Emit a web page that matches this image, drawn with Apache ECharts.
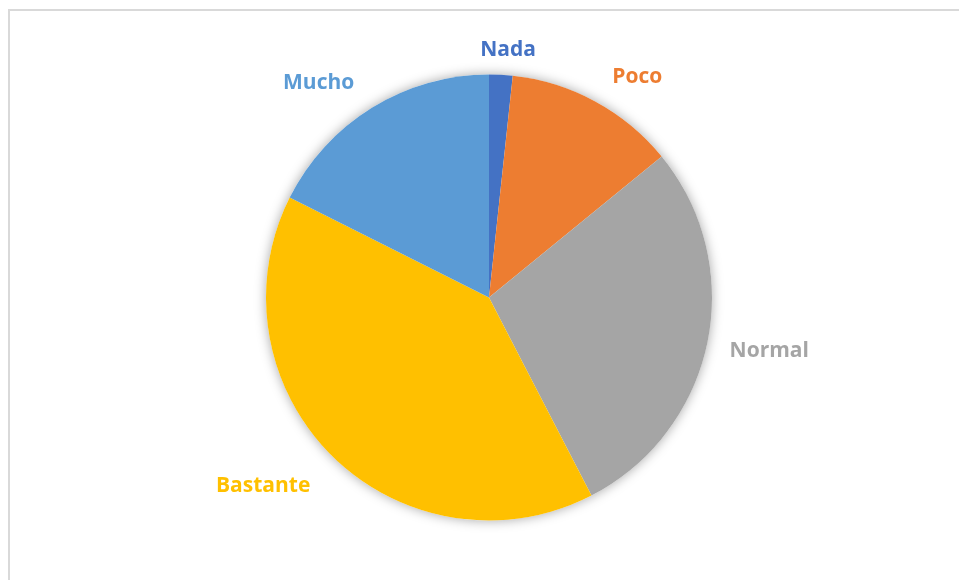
<!DOCTYPE html>
<html>
<head>
<meta charset="utf-8">
<script src="https://cdn.jsdelivr.net/npm/echarts@6/dist/echarts.min.js"></script>
<style>
  html, body { margin: 0; padding: 0; background: #ffffff; }
  #chart { width: 959px; height: 580px; }
</style>
</head>
<body>
<div id="chart"></div>
<script>
// Answer categories, clockwise from 12 o'clock
const categories = ['Nada', 'Poco', 'Normal', 'Bastante', 'Mucho'];
// Share of answers (%)
const values = [1.7, 12.4, 28.3, 40.0, 17.6];

// Office palette
const colors = ['#4472C4', '#ED7D31', '#A5A5A5', '#FFC000', '#5B9BD5'];

// Pie geometry (px)
const cx = 489, cy = 297.5, R = 223;

// Label placement: angular shift (deg) from slice middle and distance from centre
const labelShift = [1.3, 5.3, -1.2, 5.8, -6.6];
const labelDist = [250, 267, 285, 293, 275];
const labelBaselineNudge = 1.5;

const total = values.reduce((a, b) => a + b, 0);
const midAngles = [];
let acc = 0;
values.forEach(v => {
  const a = v / total * 360;
  midAngles.push(acc + a / 2);
  acc += a;
});

const chart = echarts.init(document.getElementById('chart'), null, { renderer: 'canvas' });

chart.setOption({
  backgroundColor: '#ffffff',
  animation: false,
  graphic: [{
    type: 'rect',
    shape: { x: 9, y: 10, width: 1000, height: 700 },
    style: { fill: 'none', stroke: '#d9d9d9', lineWidth: 2 },
    silent: true,
    z: -10
  }],
  series: [
    {
      // soft outer shadow behind the whole pie
      type: 'pie',
      silent: true,
      center: [cx, cy],
      radius: R,
      z: 1,
      label: { show: false },
      labelLine: { show: false },
      itemStyle: {
        color: '#ffffff',
        shadowBlur: 12,
        shadowColor: 'rgba(0,0,0,0.35)'
      },
      data: [{ value: 1, name: '' }]
    },
    {
      type: 'pie',
      center: [cx, cy],
      radius: R,
      startAngle: 90,
      clockwise: true,
      z: 2,
      avoidLabelOverlap: false,
      itemStyle: { borderWidth: 0 },
      label: {
        show: true,
        position: 'outside',
        formatter: '{b}',
        fontFamily: '"Open Sans", Lato, sans-serif',
        fontWeight: 'bold',
        fontSize: 21
      },
      labelLine: { show: false },
      labelLayout: function (params) {
        const i = params.dataIndex;
        const ang = (midAngles[i] + labelShift[i]) * Math.PI / 180;
        return {
          x: cx + labelDist[i] * Math.sin(ang),
          y: cy - labelDist[i] * Math.cos(ang) + labelBaselineNudge,
          align: 'center',
          verticalAlign: 'middle'
        };
      },
      data: categories.map((name, i) => ({
        name: name,
        value: values[i],
        itemStyle: { color: colors[i] },
        label: { color: colors[i] }
      }))
    }
  ]
});
</script>
</body>
</html>
